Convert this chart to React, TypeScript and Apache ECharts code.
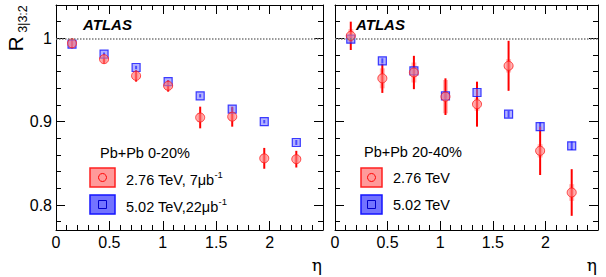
import React, { useEffect, useRef } from "react";
import * as echarts from "echarts";

// ---- data ----
const eta = [0.15, 0.45, 0.75, 1.05, 1.35, 1.65, 1.95, 2.25];

// Pb+Pb 0-20%
const leftRed = [0.994, 0.975, 0.955, 0.943, 0.905, 0.906, 0.856, 0.855];
const leftRedErr = [0.006, 0.005, 0.007, 0.007, 0.013, 0.012, 0.0125, 0.01];
const leftRedSyst = [0.003, 0.004, 0.004, 0.005, 0.005, 0.005, 0.005, 0.005];
const leftBlue = [0.993, 0.981, 0.965, 0.948, 0.931, 0.915, 0.9, 0.875];
const leftBlueErr = [0.002, 0.002, 0.002, 0.002, 0.002, 0.002, 0.002, 0.003];

// Pb+Pb 20-40%
const rightRed = [1.003, 0.952, 0.959, 0.93, 0.921, 0.967, 0.865, 0.815];
const rightRedErr = [0.017, 0.0175, 0.02, 0.022, 0.027, 0.03, 0.029, 0.028];
const rightRedSyst = [0.008, 0.012, 0.012, 0.02, 0.008, 0.008, 0.008, 0.01];
const rightBlue = [0.999, 0.973, 0.961, 0.931, 0.935, 0.909, 0.894, 0.871];
const rightBlueErr = [0.003, 0.003, 0.003, 0.003, 0.004, 0.004, 0.005, 0.005];

// ---- ticks ----
const xMajorTicks = [0, 0.5, 1, 1.5, 2];
const xMinorTicks = [0.1, 0.2, 0.3, 0.4, 0.6, 0.7, 0.8, 0.9, 1.1, 1.2, 1.3, 1.4, 1.6, 1.7, 1.8, 1.9, 2.1, 2.2, 2.3, 2.4];
const yMajorTicks = [0.8, 0.9, 1.0];
const yMinorTicks = [0.78, 0.82, 0.84, 0.86, 0.88, 0.92, 0.94, 0.96, 0.98, 1.02];

const X_MIN = 0;
const X_MAX = 2.5;
const Y_MIN = 0.77;
const Y_MAX = 1.04;

const FONT = "Liberation Sans, Arial, Helvetica, sans-serif";

function App() {
  const ref = useRef<HTMLDivElement>(null);

  useEffect(() => {
    if (!ref.current) return;
    const chart = echarts.init(ref.current, null, { renderer: "svg" });

    const grids = [
      { left: 56, top: 5, width: 267, height: 225 },
      { left: 335, top: 5, width: 263, height: 225 },
    ];

    const xAxes: any[] = [];
    const yAxes: any[] = [];
    grids.forEach((_, g) => {
      const baseX = { gridIndex: g, type: "value", min: X_MIN, max: X_MAX, splitLine: { show: false } };
      const baseY = { gridIndex: g, type: "value", min: Y_MIN, max: Y_MAX, splitLine: { show: false } };
      // bottom major (with labels)
      xAxes.push({
        ...baseX,
        position: "bottom",
        axisLine: { show: true, onZero: false, lineStyle: { color: "#000", width: 1 } },
        axisTick: { show: true, inside: true, length: 9, customValues: xMajorTicks, lineStyle: { color: "#000" } },
        axisLabel: { show: true, customValues: xMajorTicks, fontSize: 16, color: "#000", fontFamily: FONT, margin: 4 },
      });
      // bottom minor
      xAxes.push({
        ...baseX,
        position: "bottom",
        axisLine: { show: false, onZero: false },
        axisTick: { show: true, inside: true, length: 5, customValues: xMinorTicks, lineStyle: { color: "#000" } },
        axisLabel: { show: false },
      });
      // top major
      xAxes.push({
        ...baseX,
        position: "top",
        axisLine: { show: true, onZero: false, lineStyle: { color: "#000", width: 1 } },
        axisTick: { show: true, inside: true, length: 9, customValues: xMajorTicks, lineStyle: { color: "#000" } },
        axisLabel: { show: false },
      });
      // top minor
      xAxes.push({
        ...baseX,
        position: "top",
        axisLine: { show: false, onZero: false },
        axisTick: { show: true, inside: true, length: 5, customValues: xMinorTicks, lineStyle: { color: "#000" } },
        axisLabel: { show: false },
      });

      yAxes.push({
        ...baseY,
        position: "left",
        axisLine: { show: true, onZero: false, lineStyle: { color: "#000", width: 1 } },
        axisTick: { show: true, inside: true, length: 9, customValues: yMajorTicks, lineStyle: { color: "#000" } },
        axisLabel: {
          show: g === 0,
          customValues: yMajorTicks,
          fontSize: 16,
          color: "#000",
          fontFamily: FONT,
          margin: 4,
          formatter: (v: number) => String(Math.round(v * 10) / 10),
        },
      });
      yAxes.push({
        ...baseY,
        position: "left",
        axisLine: { show: false, onZero: false },
        axisTick: { show: true, inside: true, length: 5, customValues: yMinorTicks, lineStyle: { color: "#000" } },
        axisLabel: { show: false },
      });
      yAxes.push({
        ...baseY,
        position: "right",
        axisLine: { show: true, onZero: false, lineStyle: { color: "#000", width: 1 } },
        axisTick: { show: true, inside: true, length: 9, customValues: yMajorTicks, lineStyle: { color: "#000" } },
        axisLabel: { show: false },
      });
      yAxes.push({
        ...baseY,
        position: "right",
        axisLine: { show: false, onZero: false },
        axisTick: { show: true, inside: true, length: 5, customValues: yMinorTicks, lineStyle: { color: "#000" } },
        axisLabel: { show: false },
      });
    });

    const toData = (vals: number[], errs: number[]) => eta.map((x, i) => [x, vals[i], errs[i]]);

    const errBar = (name: string, g: number, vals: number[], errs: number[], color: string, width: number) => ({
      type: "custom",
      name,
      xAxisIndex: g * 4,
      yAxisIndex: g * 4,
      data: toData(vals, errs),
      encode: { x: 0, y: 1 },
      silent: true,
      renderItem: (params: any, api: any) => {
        const x = api.value(0);
        const y = api.value(1);
        const e = api.value(2);
        const top = api.coord([x, y + e]);
        const bot = api.coord([x, y - e]);
        return {
          type: "line",
          shape: { x1: top[0], y1: top[1], x2: bot[0], y2: bot[1] },
          style: { stroke: color, lineWidth: width },
        };
      },
    });

    const systBox = (name: string, g: number, vals: number[], errs: number[], color: string, w: number) => ({
      type: "custom",
      name,
      xAxisIndex: g * 4,
      yAxisIndex: g * 4,
      data: toData(vals, errs),
      encode: { x: 0, y: 1 },
      silent: true,
      renderItem: (params: any, api: any) => {
        const x = api.value(0);
        const y = api.value(1);
        const e = api.value(2);
        const top = api.coord([x, y + e]);
        const bot = api.coord([x, y - e]);
        return {
          type: "rect",
          shape: { x: top[0] - w / 2, y: top[1], width: w, height: bot[1] - top[1] },
          style: { fill: color },
        };
      },
    });

    const markers = (name: string, g: number, vals: number[], kind: "red" | "blue") => ({
      type: "scatter",
      name,
      xAxisIndex: g * 4,
      yAxisIndex: g * 4,
      data: eta.map((x, i) => [x, vals[i]]),
      symbol: kind === "red" ? "circle" : "rect",
      symbolSize: kind === "red" ? 9 : 8,
      silent: true,
      itemStyle:
        kind === "red"
          ? { color: "rgba(255,130,130,0.75)", borderColor: "#ff1a1a", borderWidth: 1 }
          : { color: "rgba(120,120,255,0.7)", borderColor: "#1010ff", borderWidth: 1.2 },
    });

    const refLine = (g: number) => ({
      type: "line",
      name: "ref" + g,
      xAxisIndex: g * 4,
      yAxisIndex: g * 4,
      data: [],
      silent: true,
      markLine: {
        silent: true,
        symbol: ["none", "none"],
        label: { show: false },
        lineStyle: { type: "dotted", color: "#777", width: 1.5 },
        data: [{ yAxis: 1 }],
      },
    });

    const series: any[] = [];
    const panels = [
      { red: leftRed, redErr: leftRedErr, redSyst: leftRedSyst, blue: leftBlue, blueErr: leftBlueErr },
      { red: rightRed, redErr: rightRedErr, redSyst: rightRedSyst, blue: rightBlue, blueErr: rightBlueErr },
    ];
    panels.forEach((p, g) => {
      series.push(refLine(g));
      series.push(systBox("red syst " + g, g, p.red, p.redSyst, "rgba(255,60,60,0.35)", 5));
      series.push(errBar("blue err " + g, g, p.blue, p.blueErr, "#1010ff", 2));
      series.push(markers("5.02 TeV " + g, g, p.blue, "blue"));
      series.push(errBar("red err " + g, g, p.red, p.redErr, "#ff0000", 2));
      series.push(markers("2.76 TeV " + g, g, p.red, "red"));
    });

    const txt = (x: number, y: number, text: string, extra: any = {}) => ({
      type: "text",
      x,
      y,
      silent: true,
      style: {
        text,
        fill: "#000",
        fontFamily: FONT,
        fontSize: 14.5,
        verticalAlign: "middle",
        ...extra,
      },
    });

    const supRich = {
      a: { fontSize: 14.5, fontFamily: FONT, fill: "#000", color: "#000", lineHeight: 18, verticalAlign: "bottom" },
      s: { fontSize: 9.5, fontFamily: FONT, fill: "#000", color: "#000", lineHeight: 18, verticalAlign: "top" },
    };

    const graphic: any[] = [
      // y-axis title
      {
        type: "text",
        x: 15,
        y: 44,
        rotation: Math.PI / 2,
        silent: true,
        style: { text: "R", fontSize: 21, fontFamily: FONT, fill: "#000", align: "center", verticalAlign: "middle" },
      },
      {
        type: "text",
        x: 23,
        y: 19,
        rotation: Math.PI / 2,
        silent: true,
        style: { text: "3|3:2", fontSize: 12.5, fontFamily: FONT, fill: "#000", align: "center", verticalAlign: "middle" },
      },
      // eta labels
      txt(322, 265, "η", { fontSize: 17, align: "right", fontFamily: "DejaVu Serif, serif" }),
      txt(597, 265, "η", { fontSize: 17, align: "right", fontFamily: "DejaVu Serif, serif" }),
      // ATLAS
      txt(83, 24, "ATLAS", { fontSize: 15, fontWeight: "bold", fontStyle: "italic" }),
      txt(356, 24, "ATLAS", { fontSize: 15, fontWeight: "bold", fontStyle: "italic" }),
      // left legend
      txt(100, 153, "Pb+Pb 0-20%"),
      {
        type: "rect",
        silent: true,
        shape: { x: 90, y: 168, width: 25, height: 19 },
        style: { fill: "rgba(255,120,120,0.75)", stroke: "#ff2020", lineWidth: 1.5 },
      },
      { type: "circle", silent: true, shape: { cx: 102.5, cy: 177.5, r: 4 }, style: { fill: "none", stroke: "#ff0000", lineWidth: 1 } },
      {
        type: "text",
        x: 126,
        y: 178,
        silent: true,
        style: { text: "{a|2.76 TeV, 7μb}{s|-1}", rich: supRich, verticalAlign: "middle" },
      },
      {
        type: "rect",
        silent: true,
        shape: { x: 90, y: 195, width: 25, height: 19 },
        style: { fill: "rgba(90,90,255,0.85)", stroke: "#1515ff", lineWidth: 1.5 },
      },
      { type: "rect", silent: true, shape: { x: 98.5, y: 200.5, width: 8, height: 8 }, style: { fill: "none", stroke: "#0000cc", lineWidth: 1 } },
      {
        type: "text",
        x: 126,
        y: 205,
        silent: true,
        style: { text: "{a|5.02 TeV,22μb}{s|-1}", rich: supRich, verticalAlign: "middle" },
      },
      // right legend
      txt(364, 152, "Pb+Pb 20-40%"),
      {
        type: "rect",
        silent: true,
        shape: { x: 361, y: 168, width: 21, height: 19 },
        style: { fill: "rgba(255,120,120,0.75)", stroke: "#ff2020", lineWidth: 1.5 },
      },
      { type: "circle", silent: true, shape: { cx: 371.5, cy: 177.5, r: 4 }, style: { fill: "none", stroke: "#ff0000", lineWidth: 1 } },
      txt(393, 178, "2.76 TeV"),
      {
        type: "rect",
        silent: true,
        shape: { x: 361, y: 195, width: 21, height: 19 },
        style: { fill: "rgba(90,90,255,0.85)", stroke: "#1515ff", lineWidth: 1.5 },
      },
      { type: "rect", silent: true, shape: { x: 367.5, y: 200.5, width: 8, height: 8 }, style: { fill: "none", stroke: "#0000cc", lineWidth: 1 } },
      txt(393, 205, "5.02 TeV"),
    ];

    chart.setOption({
      animation: false,
      backgroundColor: "#fff",
      grid: grids.map((g) => ({ ...g, containLabel: false })),
      xAxis: xAxes,
      yAxis: yAxes,
      series,
      graphic,
    });

    return () => chart.dispose();
  }, []);

  return (
    <div
      ref={ref}
      style={{ position: "fixed", left: 0, top: 0, width: 606, height: 277, background: "#fff" }}
    />
  );
}

export default App;
